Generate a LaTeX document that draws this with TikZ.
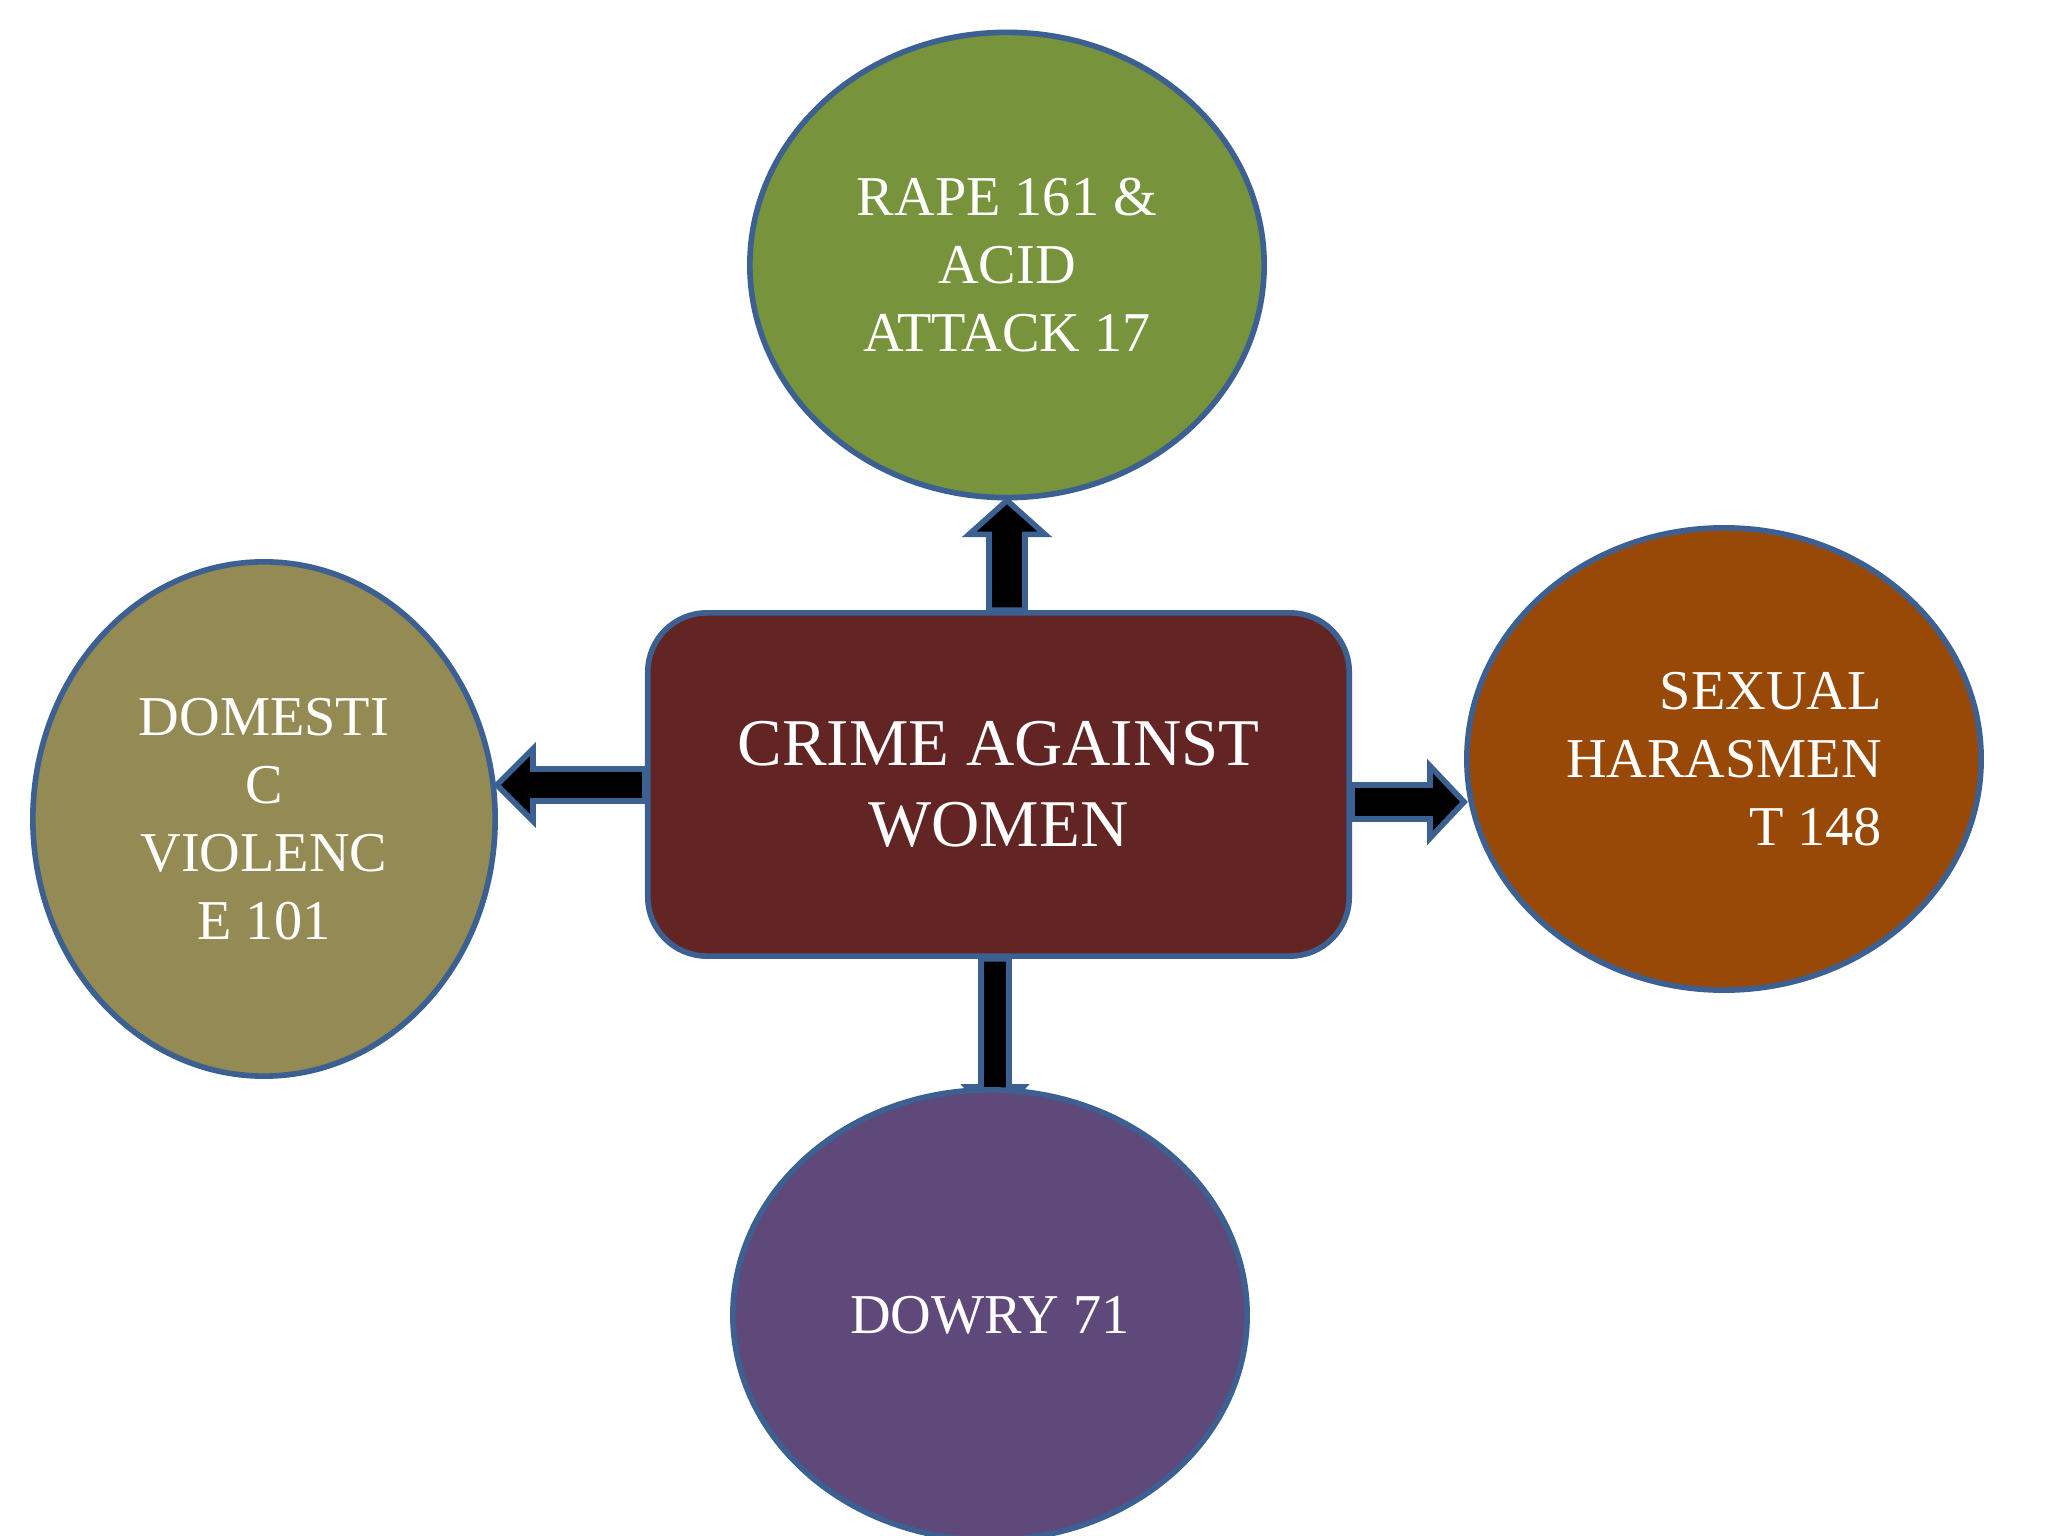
\documentclass[tikz,border=0pt]{standalone}
\usepackage{fontspec}
\setmainfont{Liberation Serif}
\usetikzlibrary{shapes.geometric,calc,backgrounds}
\definecolor{edgeblue}{RGB}{60,96,145}
\definecolor{cgreen}{HTML}{77933C}
\definecolor{colive}{HTML}{948A54}
\definecolor{corange}{HTML}{984807}
\definecolor{cpurple}{HTML}{5F497A}
\definecolor{cmaroon}{HTML}{632523}
\tikzset{
  bubble/.style={ellipse, draw=edgeblue, line width=1.6pt, inner sep=0pt, text=white,
    font=\fontsize{16}{19.3}\selectfont, align=center},
  hub/.style={rectangle, rounded corners=0.59cm, draw=edgeblue, line width=1.6pt, text=white,
    minimum width=7.01cm, minimum height=3.43cm, font=\fontsize{19}{23}\selectfont, align=center},
  blk/.style={fill=black, draw=edgeblue, line width=1.6pt, line join=miter}
}
\begin{document}
\begin{tikzpicture}[x=0.01cm,y=0.01cm]
\useasboundingbox (0,0) rectangle (2048,1536);
\node[hub, fill=cmaroon] (hub) at (998.5,751.5) {CRIME AGAINST\\WOMEN};
\node[bubble, fill=cgreen, minimum width=5.14cm, minimum height=4.65cm] (top) at (1007,1271) {RAPE 161 \&\\ACID\\ATTACK 17};
\node[bubble, fill=colive, minimum width=4.62cm, minimum height=5.14cm] (left) at (264,717) {DOMESTI\\C\\VIOLENC\\E 101};
\node[bubble, fill=corange, minimum width=5.14cm, minimum height=4.62cm, align=right] (right) at (1724,777) {SEXUAL\\HARASMEN\\T 148};
\node[bubble, fill=cpurple, minimum width=5.14cm, minimum height=4.5cm] (bottom) at (990,221) {DOWRY 71};
\begin{pgfonlayer}{background}
\fill[white] (0,0) rectangle (2048,1536);
% top arrow
\coordinate (tT) at (top.south);
\draw[blk] (tT) -- ++(38,-34) -- ++(-20,0) -- ($(tT|-hub.north)+(18,0)$) -- ++(-36,0)
  -- ($(tT)+(-18,-34)$) -- ++(-20,0) -- cycle;
% left arrow
\coordinate (tL) at ($(left.east)+(-1,34)$);
\draw[blk] (tL) -- ++(36,36) -- ++(0,-20) -- ($(tL-|hub.west)+(0,16)$) -- ++(0,-32)
  -- ($(tL)+(36,-16)$) -- ++(0,-20) -- cycle;
% right arrow
\coordinate (tR) at ($(right.west)+(0,-43)$);
\draw[blk] (tR) -- ++(-34,36) -- ++(0,-19) -- ($(tR-|hub.east)+(0,17)$) -- ++(0,-34)
  -- ($(tR)+(-34,-17)$) -- ++(0,-19) -- cycle;
% bottom arrow
\coordinate (tB) at ($(bottom.north)+(5,-30)$);
\draw[blk] (tB) -- ++(28,30) -- ++(-14,0) -- ($(tB|-hub.south)+(14,0)$) -- ++(-28,0)
  -- ($(tB)+(-14,30)$) -- ++(-14,0) -- cycle;
\end{pgfonlayer}
\end{tikzpicture}
\end{document}
